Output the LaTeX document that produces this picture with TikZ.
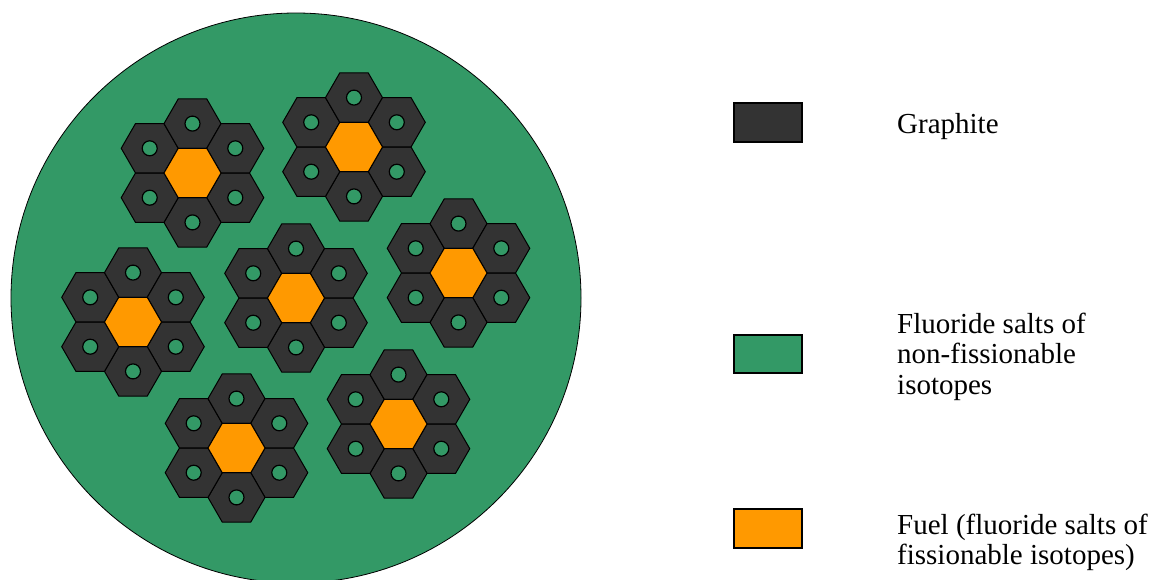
\documentclass[tikz,border=0pt]{standalone}
\usepackage{fontspec}
\setmainfont{Liberation Serif}
\definecolor{salt}{HTML}{339966}
\definecolor{graph}{HTML}{333333}
\definecolor{fuel}{HTML}{FF9900}
\begin{document}
\begin{tikzpicture}[x=1pt,y=-1pt,
  hexg/.style={fill=graph,draw=black,line width=1pt,line join=miter},
  hexf/.style={fill=fuel,draw=black,line width=1pt,line join=miter},
  hole/.style={fill=salt,draw=black,line width=1.2pt},
  legbox/.style={draw=black,line width=2pt},
  legtext/.style={anchor=base west,inner sep=0pt,font=\fontsize{29}{31}\selectfont}]
\useasboundingbox (0,0) rectangle (1156,579);
\filldraw[fill=salt,draw=black,line width=0.8pt] (296,298) circle (285pt);
\foreach \cx/\cy in {192.5/173, 354/147, 133/322, 296/298, 458.5/273, 236.5/448, 398.5/424} {
  \foreach \a in {30,90,...,330} {
    \path (\cx,\cy) ++(\a:49.4) coordinate (n);
    \draw[hexg] (n) ++(0:28.5) -- ++(120:28.5) -- ++(180:28.5) -- ++(240:28.5) -- ++(300:28.5) -- ++(0:28.5) -- cycle;
    \draw[hole] (n) circle (7.5pt);
  }
  \draw[hexf] (\cx,\cy) ++(0:28.5) -- ++(120:28.5) -- ++(180:28.5) -- ++(240:28.5) -- ++(300:28.5) -- ++(0:28.5) -- cycle;
}
\draw[legbox,fill=graph] (734,103) rectangle (802,142);
\draw[legbox,fill=salt] (734,335) rectangle (802,373);
\draw[legbox,fill=fuel] (734,509) rectangle (802,548);
\node[legtext] (t1) at (897,133) {Graphite};
\node[legtext] (t2a) at (897,333) {Fluoride salts of};
\node[legtext] (t2b) at (897,363.5) {non-fissionable};
\node[legtext] (t2c) at (897,394) {isotopes};
\node[legtext] (t3a) at (897,534) {Fuel (fluoride salts of};
\node[legtext] (t3b) at (897,564.5) {fissionable isotopes)};
\end{tikzpicture}
\end{document}
